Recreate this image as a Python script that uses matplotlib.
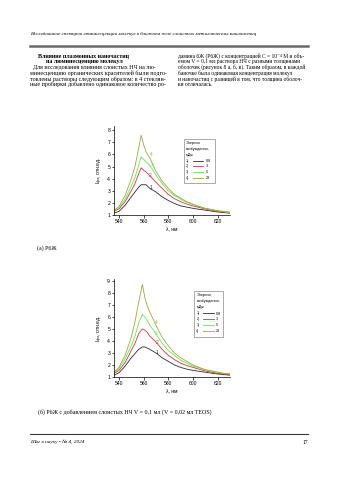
import numpy as np
import matplotlib.pyplot as plt
from matplotlib.patches import Rectangle
from matplotlib.lines import Line2D

# spectra: wavelength (nm) and intensity (rel. units)
wl_a = [536, 540, 545, 550, 553, 556, 558, 560, 562, 565, 570, 575, 580, 585,
        590, 595, 600, 605, 610, 615, 620, 625, 630]
r6g_1 = [1.15, 1.3, 1.8, 2.5, 2.9, 3.3, 3.5, 3.5, 3.5, 3.2, 2.9, 2.5, 2.2, 1.95,
         1.75, 1.65, 1.55, 1.47, 1.4, 1.32, 1.25, 1.2, 1.15]
r6g_2 = [1.3, 1.5, 2.1, 3.0, 3.6, 4.4, 4.9, 4.7, 4.55, 4.25, 3.7, 3.2, 2.7, 2.35,
         2.1, 1.9, 1.75, 1.62, 1.5, 1.4, 1.3, 1.25, 1.2]
r6g_3 = [1.35, 1.6, 2.3, 3.4, 4.1, 5.1, 5.8, 5.6, 5.4, 5.1, 4.3, 3.6, 3.0, 2.6,
         2.3, 2.05, 1.85, 1.7, 1.55, 1.45, 1.35, 1.27, 1.2]
r6g_4 = [1.4, 1.7, 2.6, 4.0, 5.0, 6.5, 7.6, 6.8, 6.2, 5.7, 4.6, 3.8, 3.2, 2.7,
         2.4, 2.1, 1.9, 1.7, 1.55, 1.45, 1.35, 1.3, 1.25]

wl_b = [536, 540, 545, 550, 553, 556, 559, 561, 563, 565, 570, 575, 580, 585,
        590, 595, 600, 605, 610, 615, 620, 625, 630]
np_1 = [1.15, 1.35, 1.9, 2.6, 2.95, 3.3, 3.5, 3.5, 3.4, 3.3, 3.0, 2.6, 2.3, 2.0,
        1.8, 1.65, 1.55, 1.47, 1.4, 1.32, 1.25, 1.2, 1.15]
np_2 = [1.3, 1.55, 2.2, 3.2, 3.8, 4.6, 5.0, 4.9, 4.7, 4.4, 3.9, 3.3, 2.8, 2.45,
        2.15, 1.95, 1.8, 1.65, 1.5, 1.4, 1.3, 1.25, 1.2]
np_3 = [1.35, 1.7, 2.5, 3.6, 4.4, 5.5, 6.2, 6.0, 5.7, 5.3, 4.6, 3.8, 3.2, 2.8,
        2.4, 2.15, 1.9, 1.75, 1.6, 1.5, 1.4, 1.3, 1.25]
np_4 = [1.4, 1.8, 2.8, 4.3, 5.6, 7.2, 8.7, 7.6, 6.9, 6.4, 5.3, 4.3, 3.6, 3.0,
        2.6, 2.3, 2.0, 1.8, 1.6, 1.5, 1.4, 1.3, 1.3]

energies = ['0,8', '3', '5', '28']
colors = ['#2b2b2b', '#d8353a', '#62e84e', '#a3a83c']
xticks = [540, 560, 580, 600, 620]

serif = ['Liberation Serif', 'DejaVu Serif']
sans = 'Liberation Sans'

fig = plt.figure(figsize=(3.5, 4.95), dpi=100)
fig.patch.set_facecolor('white')


def px(x, y):
    # page pixel coords -> figure fraction
    return x / 350, 1 - y / 495


def put(x, y, s, **kw):
    fx, fy = px(x, y)
    kw.setdefault('family', serif)
    kw.setdefault('fontsize', 4.3)
    kw.setdefault('va', 'center')
    fig.text(fx, fy, s, **kw)


# running header and rules
put(30, 34, 'Исследование спектров люминесценции молекул в ближнем поле слоистых '
    'металлических наночастиц', style='italic', fontsize=3.7)
fig.add_artist(Line2D([30 / 350, 308 / 350], [1 - 46 / 495] * 2,
                      color='#6a6a6a', lw=1.8))
fig.add_artist(Line2D([30 / 350, 308 / 350], [1 - 434 / 495] * 2,
                      color='#3a3a3a', lw=0.8))

put(84, 56, 'Влияние плазмонных наночастиц', weight='bold', ha='center')
put(84, 62, 'на люминесценцию молекул', weight='bold', ha='center')
left_lines = [
    (33, 'Для исследования влияния слоистых НЧ на лю-'),
    (30, 'минесценцию органических красителей были подго-'),
    (30, 'товлены растворы следующим образом: в 4 стеклян-'),
    (30, 'ные пробирки добавлено одинаковое количество ро-'),
]
for i, (x, s) in enumerate(left_lines):
    put(x, 67.5 + 5.7 * i, s)

right_lines = [
    'дамина 6Ж (Р6Ж) с концентрацией С = 10⁻⁴ М и объ-',
    'емом V = 0,1 мл раствора НЧ с разными толщинами',
    'оболочек (рисунок 8 а, б, в). Таким образом, в каждой',
    'баночке была одинаковая концентрация молекул',
    'и наночастиц с разницей в том, что толщина оболоч-',
    'ки отличалась.',
]
for i, s in enumerate(right_lines):
    put(178, 56 + 5.7 * i, s, fontsize=4.0)

put(37, 248, '(а) Р6Ж')
put(38, 412, '(б) Р6Ж с добавлением слоистых НЧ V = 0,1 мл (V = 0,02 мл TEOS)')
put(30, 442, 'Шаг в науку • № 4, 2024', style='italic', fontsize=3.8)
put(308, 442, '17', ha='right', fontsize=4.0)


def panel(rect, wl, series, ymax, yticks, key_box, tags):
    ax = fig.add_axes(rect)
    for ys, c in zip(series, colors):
        ax.plot(wl, ys, color=c, lw=0.6)
    ax.set_xlim(536, 630)
    ax.set_ylim(1, ymax)
    ax.set_xticks(xticks)
    ax.set_yticks(yticks)
    for side in ('top', 'right'):
        ax.spines[side].set_visible(False)
    for side in ('left', 'bottom'):
        ax.spines[side].set_linewidth(0.5)
    ax.tick_params(labelsize=3.6, width=0.5, length=1.8, pad=1)
    for lab in ax.get_xticklabels() + ax.get_yticklabels():
        lab.set_family(sans)
    ax.set_xlabel('λ, нм', fontsize=3.6, family=sans, labelpad=1.5)
    ax.set_ylabel(r'I$_{фл}$, отн.ед.', fontsize=3.6, family=sans, labelpad=1.5)
    ax.patch.set_alpha(0)

    # curve numbers
    for (tx, ty), c, n in zip(tags, colors, '1234'):
        ax.text(tx, ty, n, color=c, fontsize=3.4, family=sans,
                ha='center', va='center')

    # key box with excitation energies
    x0, y0, x1, y1 = key_box
    ax.add_patch(Rectangle((x0, y0), x1 - x0, y1 - y0, transform=ax.transAxes,
                           fill=False, ec='#888888', lw=0.5))
    h = (y1 - y0) / 7.6
    title = ['Энергия', 'возбуждения,', 'мДж']
    for i, s in enumerate(title):
        ax.text(x0 + 0.02, y1 - h * (i + 0.7), s, transform=ax.transAxes,
                fontsize=2.7, family=sans, va='center')
    for i, (e, c) in enumerate(zip(energies, colors)):
        yy = y1 - h * (i + 3.7)
        ax.text(x0 + 0.02, yy, f'{i + 1})', transform=ax.transAxes,
                fontsize=2.7, family=sans, va='center')
        ax.add_artist(Line2D([x0 + 0.08, x0 + 0.17], [yy, yy],
                             transform=ax.transAxes, color=c, lw=0.6))
        ax.text(x0 + 0.19, yy, e, transform=ax.transAxes,
                fontsize=2.7, family=sans, va='center')
    return ax


panel([114 / 350, 1 - 215 / 495, 116 / 350, 89 / 495], wl_a,
      [r6g_1, r6g_2, r6g_3, r6g_4], 8.35, range(1, 9),
      (0.60, 0.36, 0.87, 0.85),
      [(566, 3.25), (565, 4.3), (567, 5.2), (566, 6.0)])

panel([114 / 350, 1 - 377 / 495, 116 / 350, 98 / 495], wl_b,
      [np_1, np_2, np_3, np_4], 9.15, range(1, 10),
      (0.69, 0.41, 0.94, 0.88),
      [(571, 3.0), (570.5, 3.9), (570, 4.6), (570.5, 5.5)])

fig.savefig('out.png', dpi=100, facecolor='white')
